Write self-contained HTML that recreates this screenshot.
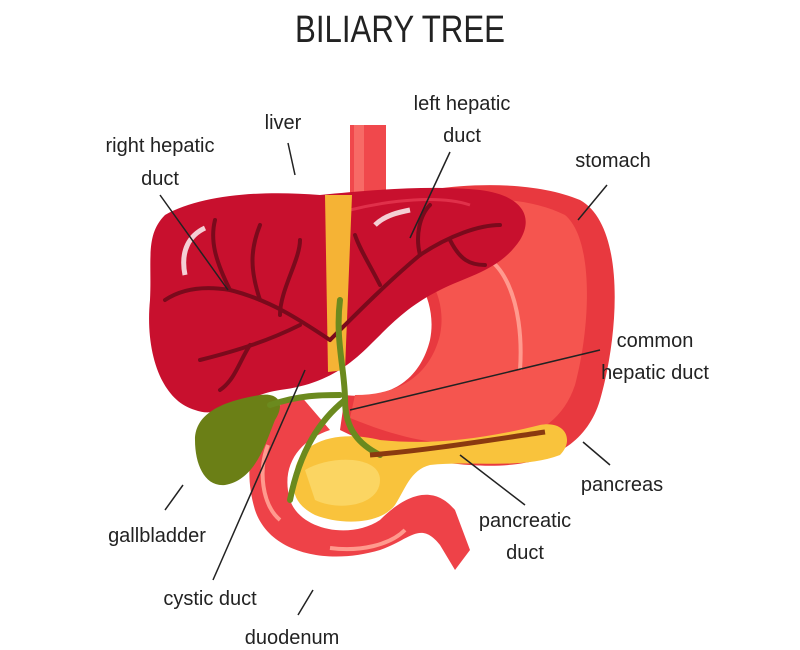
<!DOCTYPE html>
<html><head><meta charset="utf-8"><style>
html,body{margin:0;padding:0;background:#fff;}
svg{display:block;}
text{font-family:"Liberation Sans",sans-serif;fill:#222;font-size:20px;}
</style></head><body>
<svg width="800" height="650" viewBox="0 0 800 650" xmlns="http://www.w3.org/2000/svg">
<text x="400" y="42" text-anchor="middle" style="font-size:38px;font-weight:300" textLength="210" lengthAdjust="spacingAndGlyphs">BILIARY TREE</text>

<!-- esophagus -->
<rect x="350" y="125" width="36" height="90" fill="#f0484c"/>
<rect x="354" y="125" width="10" height="80" fill="#f76a66"/>

<!-- stomach -->
<path d="M370,205 C420,185 520,175 580,200 C625,225 620,330 600,400 C585,450 540,470 470,465 C420,462 380,450 340,430 L345,395 C390,400 420,380 430,340 C440,290 400,250 370,240 Z" fill="#e8393f"/>
<path d="M380,212 C440,195 520,192 565,215 C595,240 590,330 575,385 C560,430 520,445 470,445 C420,444 385,432 350,418 L355,395 C400,395 430,375 440,335 C450,285 410,248 380,240 Z" fill="#f5554f"/>
<path d="M470,255 C500,250 525,300 520,370" stroke="#ff9a8e" stroke-width="4" fill="none"/>

<!-- duodenum -->
<path d="M300,395 C255,410 240,460 255,510 C270,555 330,565 380,550 C410,540 420,520 440,545 L455,570 L470,550 L455,510 C430,480 400,500 380,520 C350,540 300,530 290,500 C280,465 300,440 330,430 Z" fill="#ee4248"/>
<path d="M268,445 C258,470 262,505 280,520" stroke="#ff9a8e" stroke-width="4" fill="none"/>
<path d="M330,548 C360,552 390,545 405,530" stroke="#ff9a8e" stroke-width="4" fill="none"/>

<!-- pancreas -->
<path d="M295,470 C300,440 340,430 380,440 C430,445 480,440 540,425 C565,420 575,440 560,455 C520,470 470,460 430,465 C410,470 405,490 395,505 C380,525 340,525 315,515 C295,505 290,490 295,470 Z" fill="#f9c33c"/>
<path d="M305,470 C330,455 380,455 380,480 C380,505 340,512 315,500" fill="#fbd562"/>

<!-- liver -->
<path d="M165,215 C200,195 260,190 320,195 C370,190 430,185 480,190 C520,195 535,215 520,240 C500,270 470,275 440,290 C410,305 395,320 370,345 C345,370 320,385 280,390 C245,395 220,420 195,410 C160,400 145,350 150,300 C152,260 145,235 165,215 Z" fill="#c8102e"/>
<path d="M350,210 C390,200 440,195 470,205" stroke="#e0304a" stroke-width="3" fill="none"/>
<path d="M185,275 C180,250 190,235 205,228" stroke="#fff" stroke-width="5" fill="none" opacity=".8"/>
<path d="M375,225 C385,215 400,212 410,210" stroke="#fff" stroke-width="5" fill="none" opacity=".8"/>

<!-- yellow duct strip -->
<path d="M325,195 L352,195 L345,370 L328,372 Z" fill="#f5b335"/>

<!-- branches -->
<g stroke="#7a0a1c" stroke-width="4" fill="none" stroke-linecap="round">
<path d="M330,340 C300,320 270,300 230,290 C200,285 180,290 165,300"/>
<path d="M230,290 C215,260 210,240 215,220"/>
<path d="M260,300 C250,270 250,250 260,225"/>
<path d="M280,315 C280,290 300,260 300,240"/>
<path d="M300,325 C270,340 240,350 200,360"/>
<path d="M250,345 C240,360 235,380 220,390"/>
<path d="M330,340 C360,310 390,280 420,255 C450,235 480,225 500,225"/>
<path d="M420,255 C415,235 420,215 430,205"/>
<path d="M450,240 C460,260 470,265 485,265"/>
<path d="M380,285 C370,265 360,250 355,235"/>
</g>

<!-- gallbladder -->
<path d="M195,440 C195,410 230,400 260,395 C280,392 285,405 275,420 C265,445 255,480 225,485 C205,487 195,465 195,440 Z" fill="#6b7f16"/>
<!-- ducts green -->
<g stroke="#6b8a1e" stroke-width="6" fill="none" stroke-linecap="round">
<path d="M340,300 C335,340 345,370 345,400 C345,430 360,445 380,455"/>
<path d="M345,400 C320,420 300,450 290,500"/>
<path d="M270,405 C300,395 320,395 340,395"/>
</g>
<!-- pancreatic duct -->
<path d="M370,455 C430,450 490,440 545,432" stroke="#8a3a10" stroke-width="5" fill="none"/>

<!-- leader lines -->
<g stroke="#222" stroke-width="1.5">
<line x1="160" y1="195" x2="228" y2="290"/>
<line x1="288" y1="143" x2="295" y2="175"/>
<line x1="450" y1="152" x2="410" y2="238"/>
<line x1="607" y1="185" x2="578" y2="220"/>
<line x1="600" y1="350" x2="350" y2="410"/>
<line x1="610" y1="465" x2="583" y2="442"/>
<line x1="525" y1="505" x2="460" y2="455"/>
<line x1="183" y1="485" x2="165" y2="510"/>
<line x1="213" y1="580" x2="305" y2="370"/>
<line x1="313" y1="590" x2="298" y2="615"/>
</g>

<!-- labels -->
<text x="160" y="152" text-anchor="middle">right hepatic</text>
<text x="160" y="185" text-anchor="middle">duct</text>
<text x="283" y="129" text-anchor="middle">liver</text>
<text x="462" y="110" text-anchor="middle">left hepatic</text>
<text x="462" y="142" text-anchor="middle">duct</text>
<text x="613" y="167" text-anchor="middle">stomach</text>
<text x="655" y="347" text-anchor="middle">common</text>
<text x="655" y="379" text-anchor="middle">hepatic duct</text>
<text x="622" y="491" text-anchor="middle">pancreas</text>
<text x="525" y="527" text-anchor="middle">pancreatic</text>
<text x="525" y="559" text-anchor="middle">duct</text>
<text x="157" y="542" text-anchor="middle">gallbladder</text>
<text x="210" y="605" text-anchor="middle">cystic duct</text>
<text x="292" y="644" text-anchor="middle">duodenum</text>
</svg>
</body></html>
